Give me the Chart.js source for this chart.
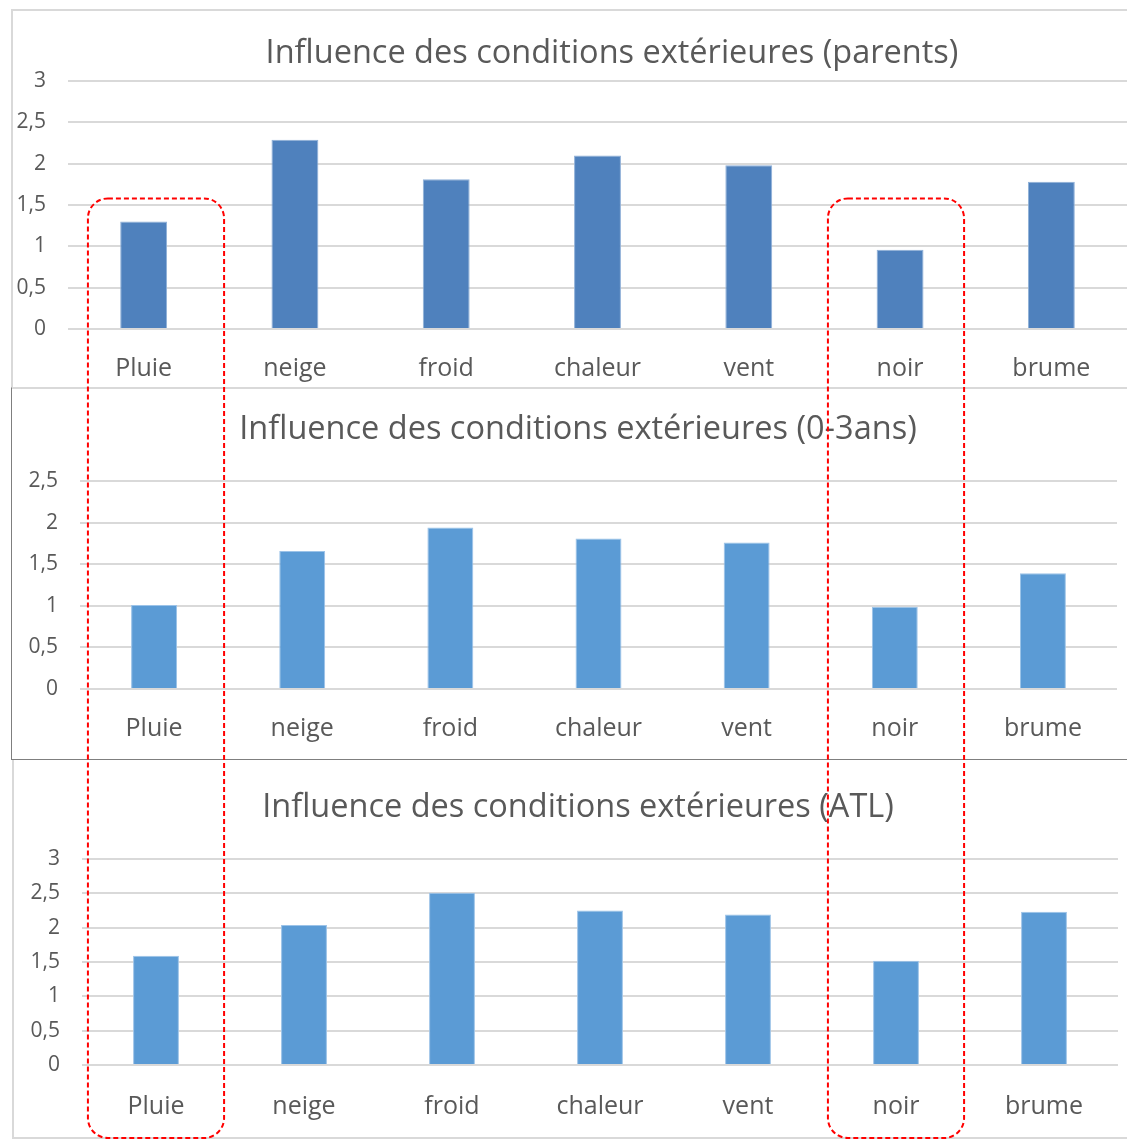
<!DOCTYPE html>
<html>
<head>
<meta charset="utf-8">
<script src="https://cdn.jsdelivr.net/npm/chart.js@4.4.1/dist/chart.umd.min.js"></script>
<style>
  body { margin:0; background:#fff; width:1127px; height:1140px; overflow:hidden; position:relative; }
  .panel { position:absolute; box-sizing:border-box; }
  #p1 { left:11px; top:9px; width:1130px; height:380px; border:2px solid #d9d9d9; }
  #p2 { left:11px; top:387px; width:1130px; height:373px; border:1px solid #7f7f7f; border-top-color:#d9d9d9; }
  #p3 { left:12px; top:760px; width:1130px; height:379px; border:2px solid #d9d9d9; border-top:none; }
  canvas { position:absolute; }
  #c1 { left:12px; top:10px; }
  #c2 { left:12px; top:388px; }
  #c3 { left:13px; top:761px; }
  #marks { left:0; top:0; pointer-events:none; }
</style>
</head>
<body>
<div class="panel" id="p1"></div>
<div class="panel" id="p2"></div>
<div class="panel" id="p3"></div>
<canvas id="c1" width="1115" height="376"></canvas>
<canvas id="c2" width="1115" height="371"></canvas>
<canvas id="c3" width="1114" height="376"></canvas>
<canvas id="marks" width="1127" height="1140"></canvas>

<script>
// ----- data -----
const categories = ['Pluie', 'neige', 'froid', 'chaleur', 'vent', 'noir', 'brume'];

const parentsValues = [1.30, 2.29, 1.81, 2.10, 1.98, 0.96, 1.78];
const babiesValues  = [1.01, 1.66, 1.94, 1.81, 1.76, 0.99, 1.39];
const atlValues     = [1.59, 2.04, 2.51, 2.25, 2.19, 1.52, 2.23];

const titles = [
  'Influence des conditions extérieures (parents)',
  'Influence des conditions extérieures (0-3ans)',
  'Influence des conditions extérieures (ATL)'
];

const yMaxes = [3, 2.5, 3];
const yStep = 0.5;

// highlighted categories (red dashed boxes)
const highlighted = ['Pluie', 'noir'];

// ----- styling -----
const FONT = '"Open Sans", Lato, sans-serif';
const TEXT = '#595959';
const GRID = '#d9d9d9';

Chart.defaults.font.family = FONT;
Chart.defaults.color = TEXT;

const frFmt = v => String(v).replace('.', ',');

// the Excel titles were dragged by hand, so they are not centred on the plot:
// draw them at a given spot instead of using the stock title box
const placedTitle = {
  id: 'placedTitle',
  afterDraw(chart, args, o){
    const c = chart.ctx;
    c.save();
    c.font = `${o.size}px ${FONT}`;
    c.fillStyle = TEXT;
    c.textAlign = 'center';
    c.textBaseline = 'middle';
    c.fillText(o.text, o.x, o.y);
    c.restore();
  }
};

function barChart(id, values, opts){
  const ctx = document.getElementById(id).getContext('2d');
  return new Chart(ctx, {
    type: 'bar',
    data: {
      labels: categories,
      datasets: [{
        data: values,
        backgroundColor: opts.color,
        borderColor: opts.edge,
        borderWidth: 1,
        barPercentage: 0.31,
        categoryPercentage: 1
      }]
    },
    plugins: [placedTitle],
    options: {
      responsive: false,
      animation: false,
      devicePixelRatio: 1,
      layout: { padding: { left: 0, right: opts.padRight, top: opts.padTop, bottom: 0 } },
      plugins: {
        legend: { display: false },
        tooltip: { enabled: false },
        title: { display: false },
        placedTitle: { text: opts.title, x: opts.titleX, y: opts.titleY, size: 32.5 }
      },
      scales: {
        x: {
          grid: { display: false },
          border: { display: false },
          ticks: { font: { size: 25 }, color: TEXT, padding: opts.xPad, maxRotation: 0 },
          afterFit: s => { s.height = opts.xHeight; }
        },
        y: {
          min: 0,
          max: opts.yMax,
          grid: { color: GRID, lineWidth: 2, drawTicks: false },
          border: { display: false },
          ticks: { stepSize: yStep, font: { size: 21 }, color: TEXT, padding: 22, callback: frFmt },
          afterFit: s => { s.width = opts.yWidth; }
        }
      }
    }
  });
}

const chart1 = barChart('c1', parentsValues, {
  title: titles[0], titleX: 600, titleY: 44,
  color: '#4f81bd', edge: '#8fb0d8', yMax: yMaxes[0],
  padTop: 71, xPad: 17, xHeight: 57, yWidth: 56, padRight: 0
});
const chart2 = barChart('c2', babiesValues, {
  title: titles[1], titleX: 566, titleY: 42,
  color: '#5b9bd5', edge: '#9cc3e8', yMax: yMaxes[1],
  padTop: 93, xPad: 17, xHeight: 70, yWidth: 68, padRight: 10
});
const chart3 = barChart('c3', atlValues, {
  title: titles[2], titleX: 565, titleY: 47,
  color: '#5b9bd5', edge: '#9cc3e8', yMax: yMaxes[2],
  padTop: 98, xPad: 19, xHeight: 72, yWidth: 69, padRight: 9
});

// ----- red dashed boxes around highlighted categories, from the charts' scales -----
function drawHighlights(){
  const m = document.getElementById('marks');
  const g = m.getContext('2d');
  const c1 = document.getElementById('c1');
  const c3 = document.getElementById('c3');
  const xs = chart3.scales.x;
  const catW = (xs.right - xs.left) / categories.length;
  const top = c1.offsetTop + chart1.scales.y.getPixelForValue(1.58);
  const bottom = c3.offsetTop + c3.height + 1;
  g.strokeStyle = '#ff0000';
  g.lineWidth = 2;
  g.setLineDash([5, 3]);
  highlighted.forEach(name => {
    const cx = c3.offsetLeft + xs.getPixelForValue(categories.indexOf(name));
    const w = catW * 0.92;
    g.beginPath();
    g.roundRect(cx - w / 2, top, w, bottom - top, 20);
    g.stroke();
  });
}
drawHighlights();
</script>
</body>
</html>
